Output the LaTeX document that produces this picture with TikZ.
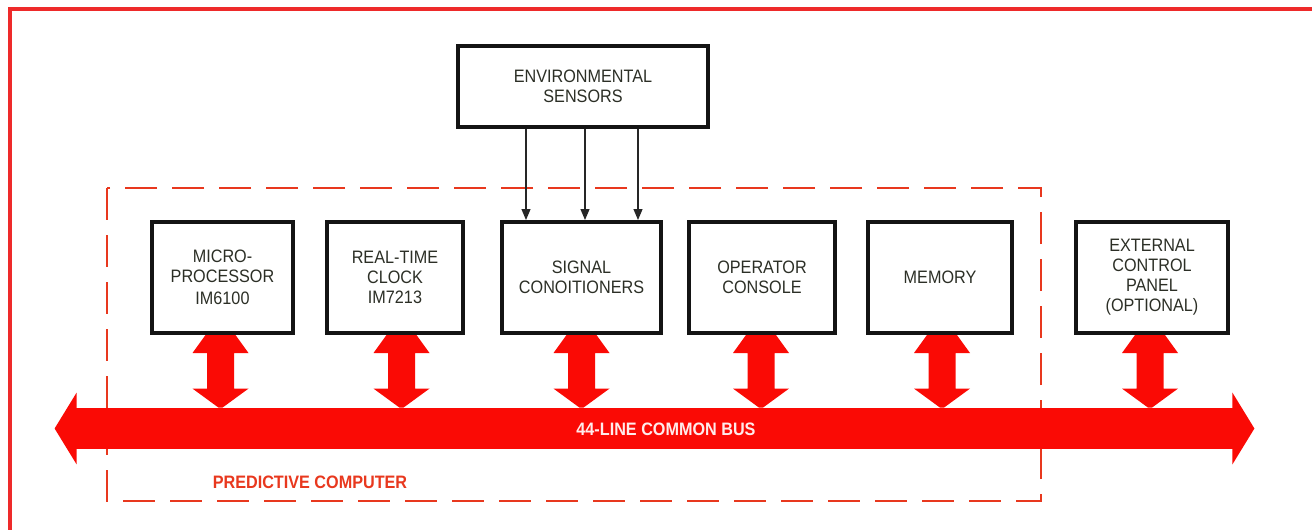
\documentclass[tikz,border=0pt]{standalone}
\usepackage{fontspec}
\setsansfont[FakeStretch=0.9]{Liberation Sans}
\usepackage{tikz}
\usetikzlibrary{arrows.meta,positioning,calc}
\definecolor{busRed}{HTML}{FA0A05}
\definecolor{frameRed}{HTML}{EE2A2A}
\definecolor{dashRed}{HTML}{E8381E}
\definecolor{inkDark}{HTML}{2C2F26}

\begin{document}
\begin{tikzpicture}[x=0.5pt,y=-0.5pt,font=\sffamily\fontsize{9}{10}\selectfont,
  blockbox/.style={draw=black!92,line width=2pt,fill=white,text=inkDark,align=center,inner sep=0pt,minimum height=55.5pt},
  feed/.style={line width=0.6pt,black!85,-{Triangle[width=4.5pt,length=5.5pt]}},
  boldlabel/.style={font=\sffamily\bfseries\fontsize{9}{10}\selectfont}]
  \useasboundingbox (0,0) rectangle (1312,530);
  \draw[frameRed,line width=2.2pt] (10,530) -- (10,9) -- (1312,9);
  \draw[dashRed,line width=1.2pt,dash pattern=on 16pt off 7.5pt] (107,188) rectangle (1041,501);
  \node[dashRed,boldlabel] (predlabel) at (310,482) {PREDICTIVE COMPUTER};
  \node[blockbox,minimum width=125pt,minimum height=40.5pt] (env) at (583,86) {ENVIRONMENTAL\\SENSORS};
  \node[blockbox,minimum width=70.5pt] (micro) at (222.5,277.5) {MICRO-\\PROCESSOR\\[1pt]IM6100};
  \node[blockbox,minimum width=68pt] (rtc) at (395,277.5) {REAL-TIME\\CLOCK\\IM7213};
  \node[blockbox,minimum width=79.5pt] (sig) at (581.5,277.5) {SIGNAL\\CONOITIONERS};
  \node[blockbox,minimum width=73pt] (opcon) at (762,277.5) {OPERATOR\\CONSOLE};
  \node[blockbox,minimum width=72pt] (mem) at (940,277.5) {MEMORY};
  \node[blockbox,minimum width=76pt] (ext) at (1152,277.5) {EXTERNAL\\CONTROL\\PANEL\\(OPTIONAL)};
  \foreach \dx in {-28.5pt,1pt,27.5pt}
    \draw[feed] ([xshift=\dx]env.south) -- ([xshift=\dx]env.south |- sig.north);
  \node[fill=busRed,minimum width=578.5pt,minimum height=20.5pt,inner sep=0pt] (bus) at (654.5,428.5) {};
  \fill[busRed] ([xshift=0.5pt,yshift=7.5pt]bus.north west) -- ([xshift=-10.5pt]bus.west) -- ([xshift=0.5pt,yshift=-7.5pt]bus.south west) -- cycle;
  \fill[busRed] ([xshift=-0.5pt,yshift=7.5pt]bus.north east) -- ([xshift=10.5pt]bus.east) -- ([xshift=-0.5pt,yshift=-7.5pt]bus.south east) -- cycle;
  \node[text=white!92!red,boldlabel] (buslabel) at (666,429) {44-LINE COMMON BUS};
  \foreach \b/\dx in {micro/-1pt,rtc/3.25pt,sig/0pt,opcon/-0.5pt,mem/1pt,ext/-1pt}
    \fill[busRed] let \p1=([xshift=\dx]\b.south), \p2=(bus.north) in
      (\x1-7.5pt,\y1) -- (\x1+7.5pt,\y1) -- (\x1+14pt,\y1-9pt) -- (\x1+6.75pt,\y1-9pt) -- (\x1+6.75pt,\y2+9.5pt)
      -- (\x1+14pt,\y2+9.5pt) -- (\x1+1pt,\y2) -- (\x1-1pt,\y2) -- (\x1-14pt,\y2+9.5pt) -- (\x1-6.75pt,\y2+9.5pt)
      -- (\x1-6.75pt,\y1-9pt) -- (\x1-14pt,\y1-9pt) -- cycle;
\end{tikzpicture}
\end{document}
